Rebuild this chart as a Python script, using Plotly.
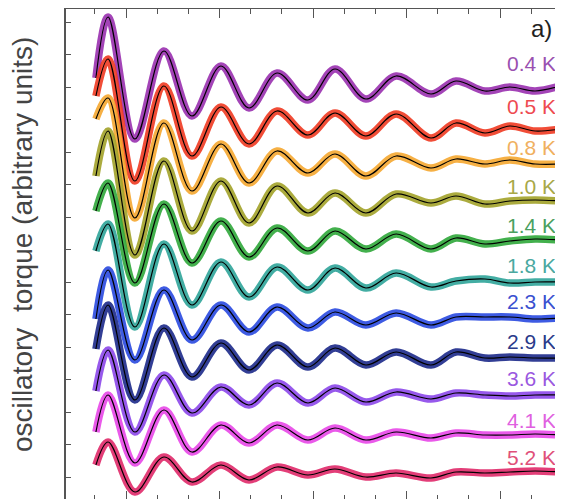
import plotly.graph_objects as go

# field (arbitrary units) at which the curves are sampled
field = [9.6, 13.5, 22.1, 31.4, 40.4, 49.7, 58.7, 67.7, 77.6, 86.3,
         96.2, 105.9, 117.1, 125.1, 134.4, 142.4, 150.5, 158.6]

temps = ["0.4 K", "0.5 K", "0.8 K", "1.0 K", "1.4 K", "1.8 K",
         "2.3 K", "2.9 K", "3.6 K", "4.1 K", "5.2 K"]

torque_04 = [159.6, 184.0, 135.2, 170.4, 144.4, 164.4, 147.6, 161.6, 150.8, 163.2,
             151.2, 160.4, 153.2, 158.4, 154.4, 156.0, 154.4, 156.4]
torque_05 = [152.4, 167.2, 118.4, 156.4, 128.4, 148.0, 133.2, 146.4, 136.8, 145.6,
             136.4, 145.2, 135.6, 141.6, 137.6, 140.4, 138.4, 139.2]
torque_08 = [143.2, 151.6, 103.6, 141.6, 114.4, 133.2, 117.6, 130.4, 121.6, 129.2,
             120.4, 128.4, 123.6, 127.2, 125.2, 126.8, 125.2, 125.2]
torque_10 = [120.4, 138.4, 88.8, 126.4, 98.4, 118.4, 101.6, 116.4, 105.6, 113.6,
             105.6, 113.2, 109.6, 112.4, 109.2, 110.4, 110.8, 110.4]
torque_14 = [106.4, 117.6, 77.6, 109.2, 85.6, 102.4, 88.0, 99.6, 90.4, 98.4,
             91.2, 97.2, 91.2, 95.6, 93.2, 94.4, 95.2, 94.8]
torque_18 = [90.4, 101.2, 60.0, 93.2, 68.8, 86.0, 72.0, 84.0, 74.8, 83.6,
             75.6, 81.6, 76.0, 78.4, 79.2, 77.6, 78.0, 78.0]
torque_23 = [63.2, 82.8, 46.8, 74.8, 54.8, 68.8, 58.0, 68.0, 59.6, 66.0,
             60.8, 65.6, 60.8, 64.0, 64.0, 64.0, 63.2, 63.6]
torque_29 = [51.2, 68.8, 30.8, 59.6, 40.0, 53.6, 42.8, 52.8, 44.0, 51.6,
             44.8, 50.0, 44.8, 50.0, 47.6, 48.0, 47.6, 47.6]
torque_36 = [34.4, 50.8, 18.0, 40.8, 25.6, 36.0, 28.8, 37.6, 29.6, 35.6,
             30.0, 34.0, 31.2, 33.6, 32.8, 32.4, 32.8, 32.8]
torque_41 = [18.0, 32.8, 5.6, 26.8, 10.0, 20.8, 13.6, 20.8, 14.8, 19.6,
             14.8, 18.0, 15.6, 17.6, 16.8, 16.8, 17.2, 16.8]
torque_52 = [4.8, 14.0, -6.0, 8.0, -2.0, 4.8, -1.2, 4.0, 0.8, 3.2,
             0.0, 1.6, -0.4, 2.0, 1.6, 2.0, 2.4, 2.0]

series = [torque_04, torque_05, torque_08, torque_10, torque_14, torque_18,
          torque_23, torque_29, torque_36, torque_41, torque_52]

band_colors = ["#9a30b0", "#f03a22", "#f6a830", "#a3a32a", "#2fa83a", "#2fa59a",
               "#2a4ae0", "#1c2a8a", "#8c48ea", "#e848e8", "#e02a6a"]
label_colors = ["#9a50b0", "#ee4a50", "#f0b060", "#a8a848", "#4aa060", "#4aa8a0",
                "#3a50d0", "#2a3a8a", "#9a58e0", "#e060e0", "#e0507a"]
# vertical gap (axis units) between a curve's right end and its label
label_gap = [9.0, 9.0, 6.5, 6.0, 6.0, 6.5, 6.5, 6.5, 6.5, 6.0, 6.0]

FONT = "Liberation Sans, Arial, sans-serif"

fig = go.Figure()
for t, y, c in zip(temps, series, band_colors):
    fig.add_trace(go.Scatter(x=field, y=y, mode="lines",
                             line=dict(color=c, width=7.5, shape="spline", smoothing=1.0),
                             opacity=0.9, showlegend=False, hoverinfo="skip"))
    fig.add_trace(go.Scatter(x=field, y=y, mode="lines",
                             line=dict(color="black", width=1.2, shape="spline", smoothing=1.0),
                             showlegend=False, name=t))

for t, y, c, g in zip(temps, series, label_colors, label_gap):
    fig.add_annotation(x=0.994, xref="paper", y=y[-1] + g, yref="y",
                       text=t, showarrow=False, xanchor="right", yanchor="middle",
                       font=dict(family=FONT, size=21, color=c))

fig.add_annotation(x=0.986, xref="paper", y=0.96, yref="paper", text="a)",
                   showarrow=False, xanchor="right", yanchor="middle",
                   font=dict(family=FONT, size=24, color="#222"))

fig.add_annotation(x=-0.088, xref="paper", y=0.52, yref="paper",
                   text="oscillatory  torque (arbitrary units)", textangle=-90,
                   showarrow=False, xanchor="center", yanchor="middle",
                   font=dict(family=FONT, size=28, color="#444444"))

axis_common = dict(showgrid=False, zeroline=False, showticklabels=False,
                   showline=True, linecolor="#555", linewidth=1.5, mirror="ticks",
                   ticks="inside", tickcolor="#555", tickwidth=1)

fig.update_xaxes(range=[0, 158.8], tick0=19.25, dtick=30, ticklen=9,
                 minor=dict(ticks="inside", ticklen=5, dtick=10, tick0=19.25,
                            tickcolor="#555", showgrid=False),
                 **axis_common)
fig.update_yaxes(range=[-9.2, 187.2], tick0=0, dtick=13, ticklen=5, **axis_common)

# the page body adds an 8 px margin; the figure is sized so the frame lands
# where it does in the reference
fig.update_layout(width=555, height=492,
                  margin=dict(l=58, r=2, t=1, b=0),
                  paper_bgcolor="white", plot_bgcolor="white",
                  font=dict(family=FONT))

fig.write_html("out.html")
